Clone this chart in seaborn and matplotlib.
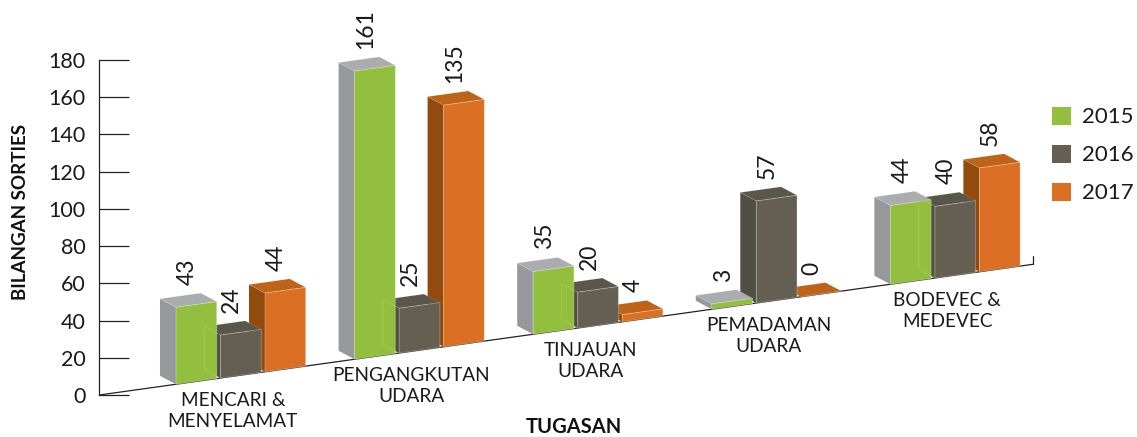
import matplotlib
matplotlib.use("Agg")
import matplotlib.pyplot as plt
from matplotlib.patches import Polygon, Patch
from matplotlib.transforms import Affine2D, IdentityTransform
import numpy as np
import pandas as pd
import seaborn as sns

categories = ["MENCARI &\nMENYELAMAT", "PENGANGKUTAN\nUDARA", "TINJAUAN\nUDARA",
              "PEMADAMAN\nUDARA", "BODEVEC &\nMEDEVEC"]
years = ["2015", "2016", "2017"]
values_2015 = [43, 161, 35, 3, 44]
values_2016 = [24, 25, 20, 57, 40]
values_2017 = [44, 135, 4, 0, 58]
yticks = [0, 20, 40, 60, 80, 100, 120, 140, 160, 180]

front = {"2015": "#92C03E", "2016": "#645F51", "2017": "#DB7025"}
side = {"2015": "#97989B", "2016": "#514E43", "2017": "#934A0E"}
top = {"2015": "#ABACAF", "2016": "#5A564A", "2017": "#BD6419"}
layer = {"2017": 2, "2016": 3, "2015": 4}

W, H = 1137, 437
AX_L, AX_R, AX_B, AX_T = 99.3, 1033.0, 395.0, 60.0   # axes box, image pixels
PITCH, C0 = 178.6, 240.85                            # group pitch and first centre
SLOPE = 0.14                                         # rise of the floor
BAR_SCALE = 1.79 / ((AX_B - AX_T) / 180)             # foreshortened value scale
DEPTH = np.array([-16.0, 8.5])

sns.set_theme(style="white")
plt.rcParams["font.family"] = ["Lato", "DejaVu Sans"]
fig = plt.figure(figsize=(W / 100, H / 100), dpi=100)
ax = fig.add_axes([AX_L / W, (H - AX_B) / H, (AX_R - AX_L) / W, (AX_B - AX_T) / H])

df = pd.DataFrame({
    "cat": categories * 3,
    "year": [y for y in years for _ in categories],
    "val": values_2015 + values_2016 + values_2017,
})
sns.barplot(data=df, x="cat", y="val", hue="year", hue_order=years, order=categories,
            palette=front, width=0.7475, gap=0.085, legend=False, ax=ax, saturation=1)

ax.set_xlim((AX_L - C0) / PITCH, (AX_R - C0) / PITCH)
ax.set_ylim(0, 180)
ax.set_yticks(yticks)
ax.set_xticks([])
ax.tick_params(axis="y", direction="in", length=21.6, width=0.9, color="#222222",
               pad=10, labelsize=15.5, labelcolor="#1a1a1a", left=True)
for s in ["top", "right", "bottom"]:
    ax.spines[s].set_visible(False)
ax.spines["left"].set_color("#222222")
ax.spines["left"].set_linewidth(0.9)
ax.patch.set_alpha(0)

# Shear the plain axes into the sloped floor of the chart
y0 = H - AX_B
skew = ax.transData + Affine2D(np.array([
    [1, 0, 0],
    [SLOPE, BAR_SCALE, y0 - SLOPE * AX_L - BAR_SCALE * y0],
    [0, 0, 1]]))

xl = ax.get_xlim()
ax.plot(xl, [0, 0], transform=skew, color="#222222", lw=0.9, clip_on=False, zorder=1)
ax.plot([xl[1], xl[1]], [0, 4.5], transform=skew, color="#222222", lw=0.9, clip_on=False, zorder=1)

display = IdentityTransform()
for year, cont in zip(years, ax.containers):
    z = layer[year]
    for bar in cont:
        x0, x1, h = bar.get_x(), bar.get_x() + bar.get_width(), bar.get_height()
        fl, fr = skew.transform([(x0, 0), (x1, 0)])
        tl, tr = skew.transform([(x0, h), (x1, h)])
        bar.set_transform(skew)
        bar.set_clip_on(False)
        bar.set_zorder(z + 0.2)
        bar.set_edgecolor((1, 1, 1, 0.3))
        bar.set_linewidth(0.6)
        ax.add_patch(Polygon([fl, tl, tl + DEPTH, fl + DEPTH], closed=True, fc=side[year], ec="none",
                             transform=display, clip_on=False, zorder=z))
        ax.add_patch(Polygon([tl, tr, tr + DEPTH, tl + DEPTH], closed=True, fc=top[year],
                             ec=(1, 1, 1, 0.2), lw=0.4, transform=display, clip_on=False, zorder=z + 0.1))
        ax.text((tl[0] + tr[0]) / 2 - 9, tr[1] + DEPTH[1] + 8, f"{h:.0f}", rotation=90,
                ha="center", va="bottom", fontsize=16.5, color="#1a1a1a",
                transform=display, clip_on=False, zorder=6)

# Faint outline of the 2016 block seen through the 2015 face
for b15, b16 in zip(ax.containers[0], ax.containers[1]):
    x0, h = b16.get_x(), b16.get_height()
    fl, tl = skew.transform([(x0, 0), (x0, h)])
    ghost = Polygon([fl, tl, tl + DEPTH, fl + DEPTH], closed=True, fc="none",
                    ec=(0.78, 0.9, 0.55, 0.3), lw=0.6, transform=display, zorder=5)
    ax.add_patch(ghost)
    ghost.set_clip_path(b15.get_path(), b15.get_transform())

# Category labels hang below the sloped floor
for i, name in enumerate(categories):
    ax.text(i - 0.045, -19.4, name, transform=skew, ha="center", va="center",
            fontsize=13.7, color="#1a1a1a", linespacing=1.22, clip_on=False)

ax.set_xlabel("TUGASAN", fontsize=14.5, fontweight="bold", color="#111111")
ax.xaxis.set_label_coords((574 - AX_L) / (AX_R - AX_L), (AX_B - 427) / (AX_B - AX_T))
ax.xaxis.label.set_va("center")
ax.set_ylabel("BILANGAN SORTIES", fontsize=13.5, fontweight="bold", color="#111111")
ax.yaxis.set_label_coords((21 - AX_L) / (AX_R - AX_L), (AX_B - 212) / (AX_B - AX_T))
ax.yaxis.label.set_va("center")

handles = [Patch(fc=front[y], ec="none", label=y) for y in years]
fig.legend(handles=handles, loc="center left", bbox_to_anchor=(1052 / W, (H - 155) / H),
           frameon=False, fontsize=16, borderpad=0, borderaxespad=0, handlelength=0.86,
           handleheight=0.86, handletextpad=0.5, labelspacing=0.78, labelcolor="#1a1a1a")

fig.savefig("out.png", dpi=100, facecolor="white")
